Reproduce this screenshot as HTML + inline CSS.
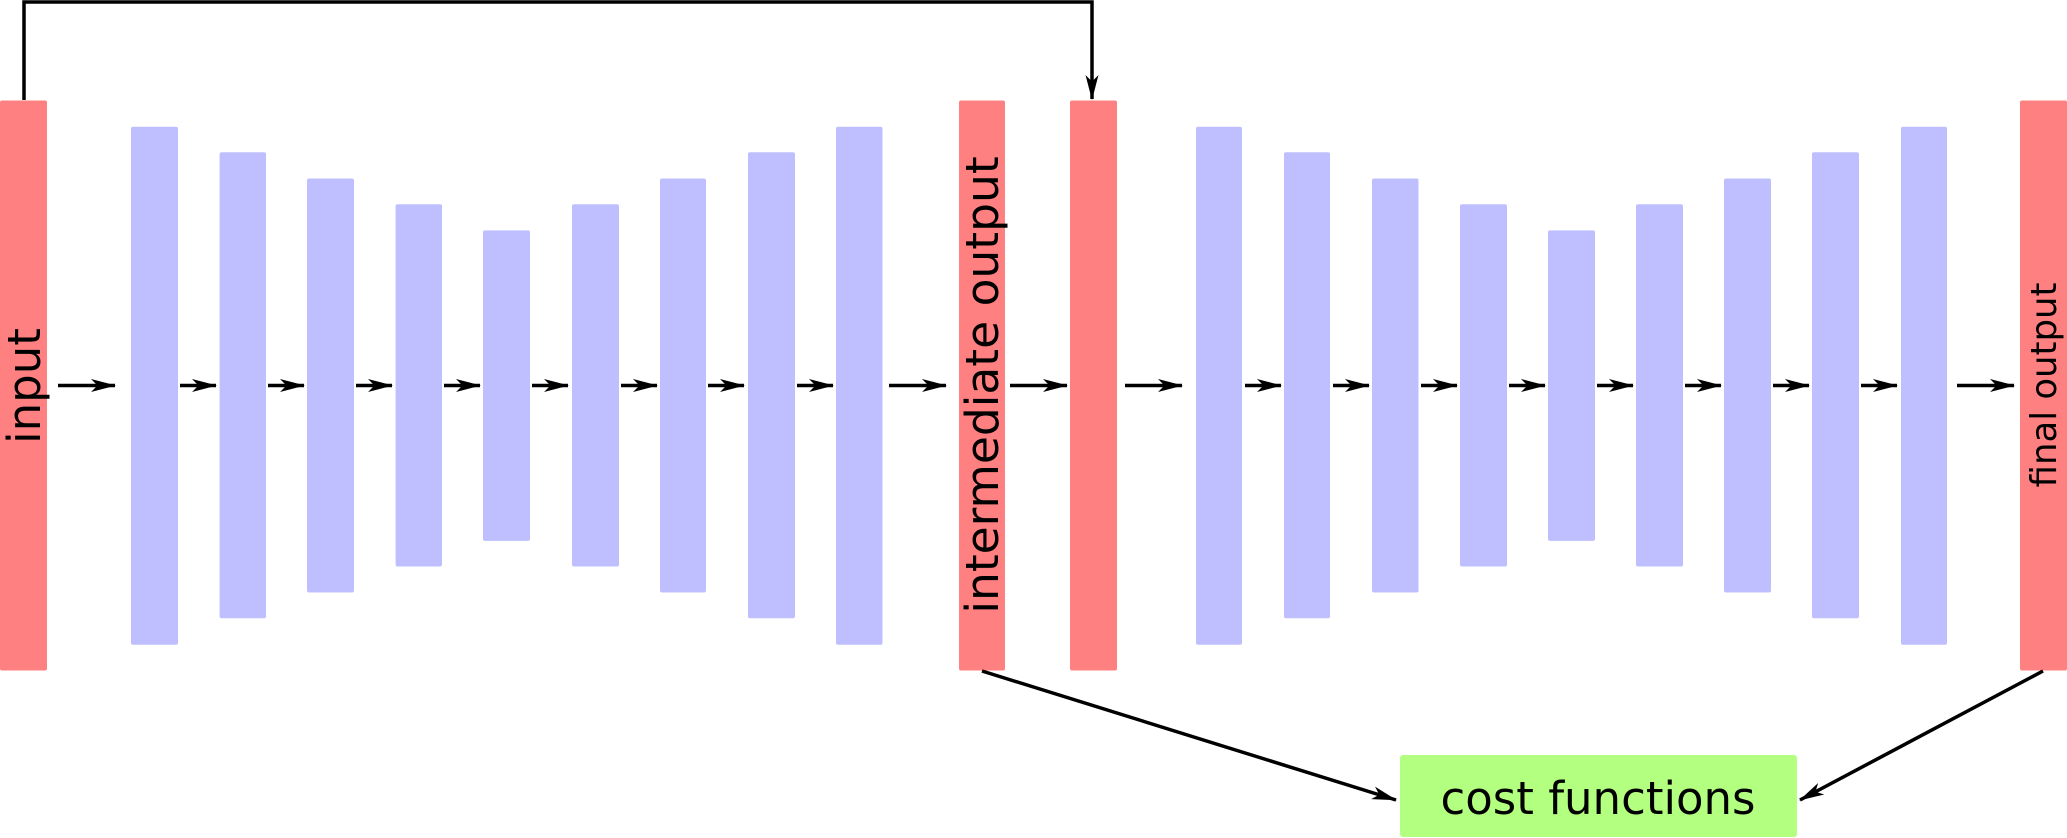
<!DOCTYPE html>
<html><head><meta charset="utf-8"><style>
html,body{margin:0;padding:0;background:#fff;}
svg{display:block;}
text{font-family:"DejaVu Sans","Liberation Sans",sans-serif;fill:#000;}
</style></head><body>
<svg width="2067" height="838" viewBox="0 0 2067 838" xmlns="http://www.w3.org/2000/svg">
<defs>
<marker id="ah" markerWidth="26" markerHeight="14" refX="24" refY="7" orient="auto" markerUnits="userSpaceOnUse">
<path d="M0,0.5 L25,7 L0,13.5 L6.5,7 Z" fill="#000"/>
</marker>
</defs>
<g fill="#ff8080">
<rect x="0" y="100.5" width="47" height="570" rx="2"/>
<rect x="959" y="100.5" width="46" height="570" rx="2"/>
<rect x="1070" y="100.5" width="47" height="570" rx="2"/>
<rect x="2020" y="100.5" width="47" height="570" rx="2"/>
</g>
<g fill="#bfbfff">
<rect x="131" y="126.7" width="47" height="518" rx="2"/>
<rect x="219.6" y="152.3" width="46.4" height="466" rx="2"/>
<rect x="307" y="178.5" width="47" height="414" rx="2"/>
<rect x="395.6" y="204.2" width="46.4" height="362.3" rx="2"/>
<rect x="483" y="230.4" width="47" height="310.5" rx="2"/>
<rect x="572" y="204.2" width="47" height="362.3" rx="2"/>
<rect x="660" y="178.5" width="46" height="414" rx="2"/>
<rect x="748" y="152.3" width="47" height="466" rx="2"/>
<rect x="836" y="126.7" width="46.5" height="518" rx="2"/>
<rect x="1196" y="126.7" width="46" height="518" rx="2"/>
<rect x="1284" y="152.3" width="46" height="466" rx="2"/>
<rect x="1372" y="178.5" width="46.5" height="414" rx="2"/>
<rect x="1460" y="204.2" width="47" height="362.3" rx="2"/>
<rect x="1548" y="230.4" width="47" height="310.5" rx="2"/>
<rect x="1636" y="204.2" width="47" height="362.3" rx="2"/>
<rect x="1724" y="178.5" width="47" height="414" rx="2"/>
<rect x="1812" y="152.3" width="47" height="466" rx="2"/>
<rect x="1901" y="126.7" width="46" height="518" rx="2"/>
</g>
<rect x="1400" y="755" width="397" height="82" rx="3" fill="#b3ff80"/>
<g stroke="#000" stroke-width="3.5" fill="none" marker-end="url(#ah)">
<line x1="58" y1="385.5" x2="115" y2="385.5"/>
<line x1="180" y1="385.5" x2="216" y2="385.5"/>
<line x1="268" y1="385.5" x2="304" y2="385.5"/>
<line x1="356" y1="385.5" x2="392" y2="385.5"/>
<line x1="444" y1="385.5" x2="480" y2="385.5"/>
<line x1="532" y1="385.5" x2="568" y2="385.5"/>
<line x1="621" y1="385.5" x2="657" y2="385.5"/>
<line x1="708" y1="385.5" x2="744" y2="385.5"/>
<line x1="797" y1="385.5" x2="833" y2="385.5"/>
<line x1="889" y1="385.5" x2="946" y2="385.5"/>
<line x1="1010" y1="385.5" x2="1067" y2="385.5"/>
<line x1="1125" y1="385.5" x2="1182" y2="385.5"/>
<line x1="1245" y1="385.5" x2="1281" y2="385.5"/>
<line x1="1333" y1="385.5" x2="1369" y2="385.5"/>
<line x1="1421" y1="385.5" x2="1457" y2="385.5"/>
<line x1="1509" y1="385.5" x2="1545" y2="385.5"/>
<line x1="1597" y1="385.5" x2="1633" y2="385.5"/>
<line x1="1685" y1="385.5" x2="1721" y2="385.5"/>
<line x1="1773" y1="385.5" x2="1809" y2="385.5"/>
<line x1="1861" y1="385.5" x2="1897" y2="385.5"/>
<line x1="1957" y1="385.5" x2="2014" y2="385.5"/>
<polyline points="24,100 24,2 1092,2 1092,99"/>
<line x1="982" y1="671" x2="1396" y2="800"/>
<line x1="2043" y1="671" x2="1800" y2="800"/>
</g>
<text transform="translate(40,386) rotate(-90)" font-size="45" text-anchor="middle">input</text>
<text transform="translate(998,385) rotate(-90)" font-size="45.5" text-anchor="middle">intermediate output</text>
<text transform="translate(2056,385) rotate(-90)" font-size="35.5" text-anchor="middle">final output</text>
<text x="1598" y="814" font-size="45" text-anchor="middle">cost functions</text>
</svg>
</body></html>
